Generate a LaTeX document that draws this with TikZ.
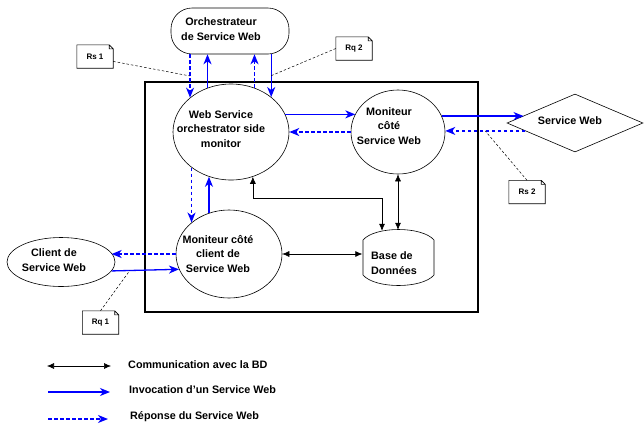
\documentclass[tikz,border=0pt]{standalone}
\usepackage{fontspec}
\setmainfont{Liberation Sans}
\usetikzlibrary{arrows.meta,shapes.geometric}

\begin{document}
\begin{tikzpicture}[x=1pt,y=-1pt,
  txt/.style={font=\fontsize{10.8}{14.5}\selectfont\bfseries, align=center, inner sep=0},
  oval/.style={ellipse, draw, line width=0.6pt, inner sep=0},
  inv/.style={draw=blue, line width=1.3pt, -{Stealth[length=10pt,width=8pt,inset=3pt]}},
  rep/.style={inv, dash pattern=on 3.5pt off 2.5pt},
  db/.style={line width=0.6pt, {Latex[length=7pt,width=6pt]}-{Latex[length=7pt,width=6pt]}},
  note/.style={minimum width=36pt, minimum height=23pt, inner sep=0, font=\fontsize{8}{9}\selectfont\bfseries},
  notelink/.style={line width=0.5pt, dash pattern=on 2.5pt off 2pt}]
\useasboundingbox (0,0) rectangle (644,426);
\draw[line width=1.1pt] (145,82) rectangle (478,312);

\node[draw, rounded corners=21pt, minimum width=118pt, minimum height=46pt, line width=0.6pt] (orch) at (230,31) {};
\node[txt] (orcht) at (221,29) {Orchestrateur\\de Service Web};
\node[oval, minimum width=116pt, minimum height=96pt] (wsm) at (231,132) {};
\node[txt] (wsmt) at (221,129) {Web Service\\orchestrator side\\monitor};
\node[oval, minimum width=94pt, minimum height=84pt] (msw) at (398,132) {};
\node[txt] (mswt) at (389,126) {Moniteur\\côté\\Service Web};
\node[oval, minimum width=106pt, minimum height=88pt] (mcl) at (229,254) {};
\node[txt] (mclt) at (218,254) {Moniteur côté\\client de\\Service Web};
\node[oval, minimum width=108pt, minimum height=49pt] (cl) at (61,262) {};
\node[txt] (clt) at (54,260) {Client de\\Service Web};
\node[diamond, draw, line width=0.6pt, minimum width=136pt, minimum height=58pt, inner sep=0] (sw) at (575,123) {};
\node[txt] (swt) at (570,121) {Service Web};
\node[inner sep=0, minimum width=71pt, minimum height=56pt] (bd) at (398,258) {};
\draw[line width=0.6pt] (363,240) .. controls (375,226) and (422,226) .. (434,240) -- (434,275)
  .. controls (422,289) and (375,289) .. (363,275) -- cycle;
\node[txt, align=left] (bdt) at (394,263) {Base de\\Données};

% notes
\node[note] (rs1) at (95,56.5) {Rs 1};
\node[note] (rq2) at (354,48.5) {Rq 2};
\node[note] (rs2) at (527,192) {Rs 2};
\node[note] (rq1) at (100.5,322.5) {Rq 1};
\foreach \n in {rs1,rq2,rs2,rq1}
  \draw[line width=0.6pt] (\n.south west) -- (\n.north west) -- ([xshift=-4pt]\n.north east)
    -- ([yshift=-4pt]\n.north east) -- (\n.south east) -- cycle
    ([xshift=-4pt]\n.north east) |- ([yshift=-4pt]\n.north east);

% orchestrateur <-> monitor
\draw[rep] (orch.south -| wsm.140) -- coordinate[pos=.5] (rs1pt) (wsm.140);
\draw[inv] (wsm.118) -- (wsm.118 |- orch.south);
\draw[rep] (wsm.62) -- (wsm.62 |- orch.south);
\draw[inv] (orch.south -| wsm.41) -- coordinate[pos=.5] (rq2pt) (wsm.41);
% monitor <-> moniteur service
\draw[inv] (wsm.18) -- (wsm.18 -| msw.157);
\draw[rep] (msw.west) -- (wsm.east);
\draw[inv] (msw.20) -- (msw.20 -| sw.172);
\draw[rep] (sw.189) -- coordinate[pos=.5] (rs2pt) (sw.189 -| msw.east);
% monitor <-> moniteur client
\draw[rep] (wsm.222) -- (wsm.222 |- mcl.140);
\draw[inv] (mcl.116) -- (mcl.116 |- wsm.244);
\draw[rep] (mcl.west) -- (mcl.west -| cl.10);
\draw[inv] (cl.350) -- coordinate[pos=.27] (rq1pt) (mcl.197);
% base de donnees
\draw[db] (wsm.296) -- (wsm.296 |- 0,198) -| ([xshift=-16pt,yshift=-1pt]bd.north);
\draw[db] (msw.south) -- (bd.north);
\draw[db] (mcl.east) -- (mcl.east -| bd.west);

\draw[notelink] (rs1.345) -- (rs1pt);
\draw[notelink] (rq2.west) -- (rq2pt);
\draw[notelink] (rs2.north) -- (rs2pt);
\draw[notelink] (rq1.north) -- (rq1pt);

% legend
\node[txt, anchor=base west] (lgdb) at (128,368.5) {Communication avec la BD};
\node[txt, anchor=base west] (lginv) at (129,393.5) {Invocation d’un Service Web};
\node[txt, anchor=base west] (lgrep) at (130,419) {Réponse du Service Web};
\draw[db] ([xshift=-81pt,yshift=2.5pt]lgdb.base west) -- ([xshift=-17pt,yshift=2.5pt]lgdb.base west);
\draw[inv] ([xshift=-81pt,yshift=1.5pt]lginv.base west) -- ([xshift=-19pt,yshift=1.5pt]lginv.base west);
\draw[rep] ([xshift=-82pt]lgrep.base west) -- ([xshift=-22pt]lgrep.base west);
\end{tikzpicture}
\end{document}
